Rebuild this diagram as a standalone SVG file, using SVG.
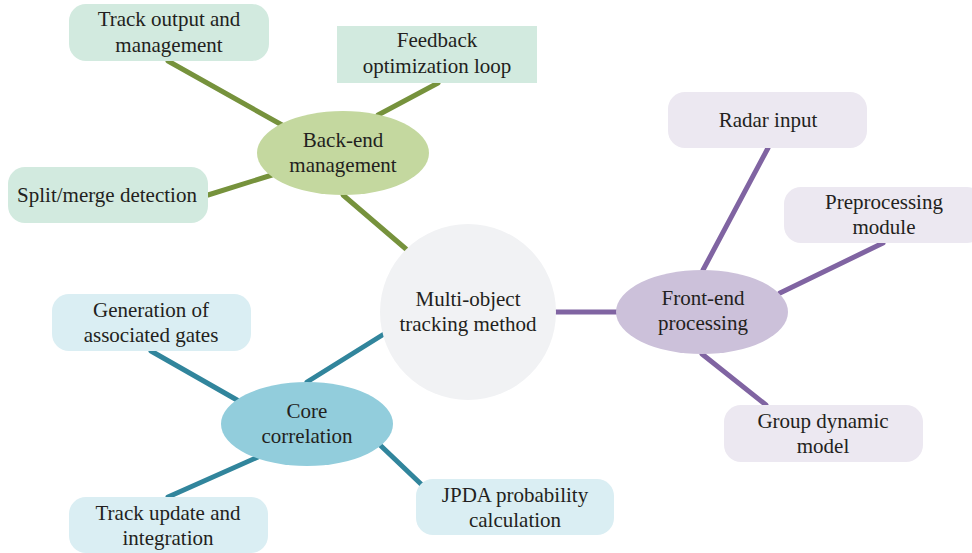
<svg xmlns="http://www.w3.org/2000/svg" width="972" height="553" viewBox="0 0 972 553">
<style>
text{font-size:21px;fill:#231F20;text-anchor:middle}
.gl{stroke:#76923C;stroke-width:5;stroke-linecap:round;fill:none}
.bl{stroke:#31859C;stroke-width:5;stroke-linecap:round;fill:none}
.pl{stroke:#8064A2;stroke-width:5;stroke-linecap:round;fill:none}
.gbox{fill:#D2EADF}
.bbox{fill:#DAEEF3}
.pbox{fill:#ECE8F1}
</style>
<rect width="972" height="553" fill="#FFFFFF"/>
<g id="connectors">
<line class="gl" x1="168" y1="61" x2="282" y2="125"/>
<line class="gl" x1="208" y1="195" x2="272" y2="175"/>
<line class="gl" x1="438" y1="83" x2="378" y2="115"/>
<line class="gl" x1="343" y1="195" x2="406" y2="249"/>
<line class="bl" x1="392" y1="329" x2="307" y2="382"/>
<line class="bl" x1="151" y1="351" x2="237" y2="400"/>
<line class="bl" x1="258" y1="457" x2="168" y2="497"/>
<line class="bl" x1="380" y1="445" x2="422" y2="485"/>
<line class="pl" x1="556" y1="312" x2="617" y2="312"/>
<line class="pl" x1="768" y1="148" x2="703" y2="270"/>
<line class="pl" x1="883" y1="243" x2="780" y2="293"/>
<line class="pl" x1="702" y1="354" x2="766" y2="405"/>
</g>
<g font-family="Liberation Serif, DejaVu Serif, serif">
<g id="center">
<circle cx="468" cy="312" r="88" fill="#F1F2F4"/>
<text x="468" y="306">Multi-object</text>
<text x="468" y="331">tracking method</text>
</g>
<g id="backend">
<ellipse cx="343" cy="153" rx="86" ry="42" fill="#C4D89F"/>
<text x="343" y="147">Back-end</text>
<text x="343" y="172">management</text>
</g>
<g id="track-output">
<rect class="gbox" x="69" y="4" width="200" height="57" rx="17"/>
<text x="169" y="26">Track output and</text>
<text x="169" y="52">management</text>
</g>
<g id="feedback">
<rect class="gbox" x="337" y="26" width="200" height="57"/>
<text x="437" y="47">Feedback</text>
<text x="437" y="73">optimization loop</text>
</g>
<g id="split-merge">
<rect class="gbox" x="8" y="167" width="200" height="56" rx="17"/>
<text x="107" y="202">Split/merge detection</text>
</g>
<g id="core">
<ellipse cx="307" cy="424" rx="86" ry="42" fill="#92CDDC"/>
<text x="307" y="418">Core</text>
<text x="307" y="443">correlation</text>
</g>
<g id="generation">
<rect class="bbox" x="52" y="294" width="199" height="57" rx="17"/>
<text x="151" y="317">Generation of</text>
<text x="151" y="342">associated gates</text>
</g>
<g id="track-update">
<rect class="bbox" x="69" y="497" width="199" height="56" rx="17"/>
<text x="168" y="520">Track update and</text>
<text x="168" y="545">integration</text>
</g>
<g id="jpda">
<rect class="bbox" x="416" y="479" width="198" height="56" rx="17"/>
<text x="515" y="502">JPDA probability</text>
<text x="515" y="527">calculation</text>
</g>
<g id="frontend">
<ellipse cx="702" cy="312" rx="86" ry="42" fill="#CCC1DA"/>
<text x="703" y="305">Front-end</text>
<text x="703" y="330">processing</text>
</g>
<g id="radar">
<rect class="pbox" x="668" y="92" width="199" height="56" rx="17"/>
<text x="768" y="127">Radar input</text>
</g>
<g id="preprocessing">
<rect class="pbox" x="784" y="187" width="200" height="56" rx="17"/>
<text x="884" y="209">Preprocessing</text>
<text x="884" y="234">module</text>
</g>
<g id="group-dynamic">
<rect class="pbox" x="724" y="405" width="199" height="57" rx="17"/>
<text x="823" y="428">Group dynamic</text>
<text x="823" y="453">model</text>
</g>
</g>
</svg>
